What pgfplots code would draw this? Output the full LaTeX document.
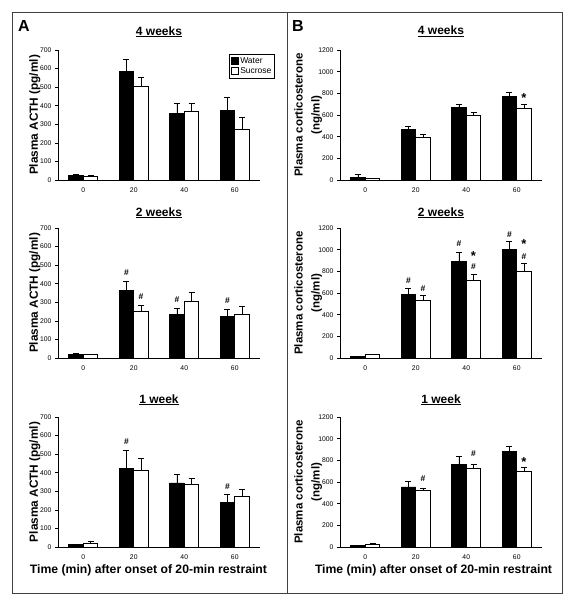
\documentclass[border=0pt]{standalone}
\usepackage{fontspec}
\setmainfont{Liberation Sans}
\usepackage{pgfplots}
\pgfplotsset{compat=1.18}
\newcommand{\hs}{\#}
\newcommand{\st}{{\fontsize{13}{13}\selectfont *}}
\pgfplotsset{
  panel/.style={
    scale only axis, width=202pt, height=130pt, anchor=south west,
    axis x line*=bottom, axis y line*=left,
    axis line style={black, line width=0.6pt},
    xmin=-0.5, xmax=3.5, ymin=0,
    xtick={0,1,2,3}, xticklabels={0,20,40,60},
    x tick style={draw=none},
    y tick style={black, line width=0.5pt},
    tick align=outside, major tick length=3pt,
    tick label style={font=\fontsize{6.8}{7}\selectfont},
    xticklabel style={yshift=-1pt},
    /pgf/number format/assume math mode=true,
    /pgf/number format/1000 sep={},
    title style={font=\bfseries\fontsize{12}{14}\selectfont, at={(axis description cs:0.5,1)}, anchor=base},
    clip=false,
  },
  acth/.style={ymax=700, ytick={0,100,...,700},
    ylabel={Plasma ACTH (pg/ml)},
    ylabel style={font=\bfseries\fontsize{11.8}{13}\selectfont, at={(axis description cs:-0.114,0.5)}, anchor=center}},
  cort/.style={ymax=1200, ytick={0,200,...,1200},
    ylabel={Plasma corticosterone\\(ng/ml)},
    ylabel style={font=\bfseries\fontsize{11.5}{17}\selectfont, align=center, at={(axis description cs:-0.158,0.5)}, anchor=center}},
  errs/.style={/pgfplots/error bars/y dir=plus, /pgfplots/error bars/y explicit,
    /pgfplots/error bars/error bar style={black, line width=0.6pt},
    /pgfplots/error bars/error mark options={rotate=90, mark size=3pt, black, line width=0.6pt}},
  water/.style={ybar, bar width=14.5pt, bar shift=0pt, fill=black, draw=black, line width=0.6pt, errs},
  sucrose/.style={ybar, bar width=14.5pt, bar shift=0pt, fill=white, draw=black, line width=0.6pt, errs},
  ann/.style={only marks, mark=none, nodes near coords, point meta=explicit symbolic,
    every node near coord/.append style={anchor=center, inner sep=0pt, font=\bfseries\fontsize{8.5}{8.5}\selectfont}},
  xlab/.style={xlabel={Time (min) after onset of 20-min restraint},
    xlabel style={font=\bfseries\fontsize{12.2}{14}\selectfont, anchor=base, yshift=-26pt}},
}
\begin{document}
\begin{tikzpicture}
\useasboundingbox (0pt,0pt) rectangle (574pt,-601pt);
\draw[line width=0.8pt, black!75] (12pt,-12pt) rectangle (562pt,-593pt);
\draw[line width=0.8pt, black!75] (287pt,-12pt) -- (287pt,-593pt);
\node[font=\bfseries\fontsize{16}{16}\selectfont] at (24pt,-26pt) {A};
\node[font=\bfseries\fontsize{16}{16}\selectfont] at (298pt,-26pt) {B};

% ---------- A top: 4 weeks ----------
\begin{axis}[panel, acth, at={(58pt,-180pt)},
  title={\underline{4 weeks}}, title style={yshift=9pt},
  legend style={at={(axis description cs:1.074,0.969)}, anchor=north east,
    font=\fontsize{8.5}{10}\selectfont, draw=black, line width=0.6pt, inner sep=1.2pt, row sep=-1.5pt},
  legend cell align=left,
  legend image code/.code={\draw[#1] (0pt,-3.5pt) rectangle (7pt,3.5pt);}]
\addplot[water] coordinates {(-0.144,25) +- (0,5) (0.856,585) +- (0,65) (1.856,360) +- (0,55) (2.856,375) +- (0,70)};
\addlegendentry{Water}
\addplot[sucrose] coordinates {(0.144,20) +- (0,4) (1.144,505) +- (0,50) (2.144,370) +- (0,45) (3.144,275) +- (0,65)};
\addlegendentry{Sucrose}
\end{axis}

% ---------- A mid: 2 weeks ----------
\begin{axis}[panel, acth, at={(58pt,-358pt)},
  title={\underline{2 weeks}}, title style={yshift=6pt}]
\addplot[water] coordinates {(-0.144,18) +- (0,5) (0.856,365) +- (0,50) (1.856,235) +- (0,30) (2.856,222) +- (0,40)};
\addplot[sucrose] coordinates {(0.144,18) +- (0,2) (1.144,250) +- (0,35) (2.144,305) +- (0,50) (3.144,238) +- (0,42)};
\addplot[ann] table[meta=lab] {
x y lab
0.856 459 \hs
1.144 330 \hs
1.856 316 \hs
2.856 309 \hs
};
\end{axis}

% ---------- A bottom: 1 week ----------
\begin{axis}[panel, acth, xlab, at={(58pt,-547pt)},
  title={\underline{1 week}}, title style={yshift=8pt},
  xlabel style={at={(axis description cs:0.448,0)}}]
\addplot[water] coordinates {(-0.144,15) +- (0,2) (0.856,425) +- (0,95) (1.856,345) +- (0,45) (2.856,240) +- (0,45)};
\addplot[sucrose] coordinates {(0.144,20) +- (0,10) (1.144,415) +- (0,60) (2.144,335) +- (0,35) (3.144,275) +- (0,35)};
\addplot[ann] table[meta=lab] {
x y lab
0.856 567 \hs
2.856 325 \hs
};
\end{axis}

% ---------- B top: 4 weeks ----------
\begin{axis}[panel, cort, at={(340pt,-180pt)},
  title={\underline{4 weeks}}, title style={yshift=9pt}]
\addplot[water] coordinates {(-0.144,25) +- (0,25) (0.856,470) +- (0,30) (1.856,670) +- (0,25) (2.856,775) +- (0,35)};
\addplot[sucrose] coordinates {(0.144,15) +- (0,5) (1.144,390) +- (0,35) (2.144,595) +- (0,30) (3.144,660) +- (0,40)};
\addplot[ann] table[meta=lab] {
x y lab
3.144 755 \st
};
\end{axis}

% ---------- B mid: 2 weeks ----------
\begin{axis}[panel, cort, at={(340pt,-358pt)},
  title={\underline{2 weeks}}, title style={yshift=6pt}]
\addplot[water] coordinates {(-0.144,15) +- (0,3) (0.856,585) +- (0,55) (1.856,895) +- (0,85) (2.856,1000) +- (0,75)};
\addplot[sucrose] coordinates {(0.144,30) +- (0,5) (1.144,530) +- (0,50) (2.144,720) +- (0,50) (3.144,800) +- (0,70)};
\addplot[ann] table[meta=lab] {
x y lab
0.856 711 \hs
1.144 643 \hs
1.856 1059 \hs
2.144 843 \hs
2.144 941 \st
2.856 1135 \hs
3.144 935 \hs
3.144 1049 \st
};
\end{axis}

% ---------- B bottom: 1 week ----------
\begin{axis}[panel, cort, xlab, at={(340pt,-547pt)},
  title={\underline{1 week}}, title style={yshift=8pt},
  xlabel style={at={(axis description cs:0.463,0)}}]
\addplot[water] coordinates {(-0.144,15) +- (0,3) (0.856,555) +- (0,55) (1.856,765) +- (0,70) (2.856,880) +- (0,50)};
\addplot[sucrose] coordinates {(0.144,25) +- (0,5) (1.144,520) +- (0,25) (2.144,725) +- (0,40) (3.144,700) +- (0,35)};
\addplot[ann] table[meta=lab] {
x y lab
1.144 628 \hs
2.144 865 \hs
3.144 784 \st
};
\end{axis}
\end{tikzpicture}
\end{document}
